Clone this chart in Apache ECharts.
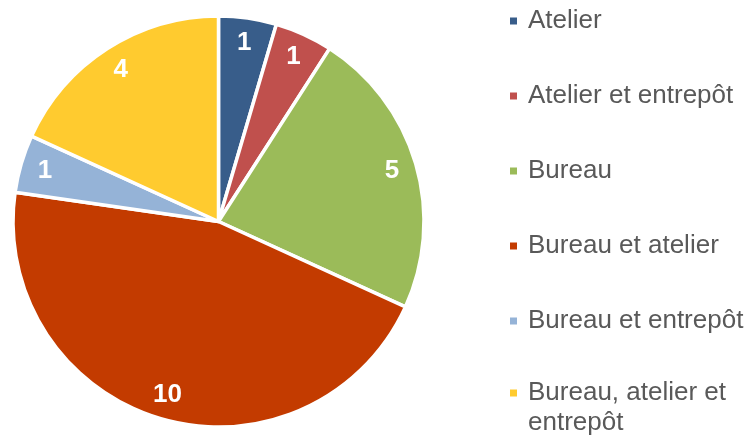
<!DOCTYPE html>
<html>
<head>
<meta charset="utf-8">
<script src="https://cdn.jsdelivr.net/npm/echarts@6/dist/echarts.min.js"></script>
<style>
  html, body { margin: 0; padding: 0; background: #ffffff; }
  #chart { width: 753px; height: 438px; }
</style>
</head>
<body>
<div id="chart"></div>
<script>
// Types de locaux et nombre de sites
const categories = [
  'Atelier',
  'Atelier et entrepôt',
  'Bureau',
  'Bureau et atelier',
  'Bureau et entrepôt',
  'Bureau, atelier et entrepôt'
];
const values = [1, 1, 5, 10, 1, 4];
const colors = ['#385D8A', '#C0504D', '#9BBB59', '#C33B00', '#95B3D7', '#FFCB2F'];

const legendText = {
  'Bureau, atelier et entrepôt': 'Bureau, atelier et\nentrepôt'
};

const slices = categories.map((name, i) => ({
  name: name,
  value: values[i],
  itemStyle: { color: colors[i] }
}));

const center = [218.5, 221.5];
const R = 205.5;

const fontFamily = 'Liberation Sans, Arial, sans-serif';

// Square marker; the wrapped entry uses a taller box with the square at its top
// so that the marker sits level with the first line of text.
const squareIcon = 'rect';
const topSquareIcon = 'path://M0,0h7v7h-7z M0,37h0';

function legendBlock(names, top, icon, itemHeight) {
  return {
    orient: 'vertical',
    left: 510,
    top: top,
    padding: 0,
    itemWidth: 7,
    itemHeight: itemHeight,
    itemGap: 45,
    icon: icon,
    itemStyle: { borderWidth: 0 },
    data: names,
    formatter: name => legendText[name] || name,
    textStyle: {
      fontFamily: fontFamily,
      fontSize: 26,
      lineHeight: 30,
      color: '#595959',
      padding: [0, 0, 0, 6]
    }
  };
}

const chart = echarts.init(document.getElementById('chart'), null, { renderer: 'canvas' });
chart.setOption({
  animation: false,
  backgroundColor: '#ffffff',
  legend: [
    legendBlock(categories.slice(0, 5), 6, squareIcon, 7),
    legendBlock(categories.slice(5), 378, topSquareIcon, 37)
  ],
  series: [
    {
      type: 'pie',
      center: center,
      radius: [0, R],
      startAngle: 90,
      clockwise: true,
      silent: true,
      label: { show: false },
      labelLine: { show: false },
      itemStyle: { borderColor: '#ffffff', borderWidth: 3.5 },
      data: slices
    },
    {
      // transparent ring used only to place the value labels near the rim
      type: 'pie',
      center: center,
      radius: [150, R],
      startAngle: 90,
      clockwise: true,
      silent: true,
      legendHoverLink: false,
      itemStyle: { color: 'rgba(0,0,0,0)', borderWidth: 0 },
      label: {
        show: true,
        position: 'inside',
        formatter: '{c}',
        color: '#ffffff',
        fontFamily: fontFamily,
        fontWeight: 'bold',
        fontSize: 26
      },
      labelLine: { show: false },
      data: categories.map((name, i) => ({ name: name, value: values[i] }))
    }
  ]
});
</script>
</body>
</html>
